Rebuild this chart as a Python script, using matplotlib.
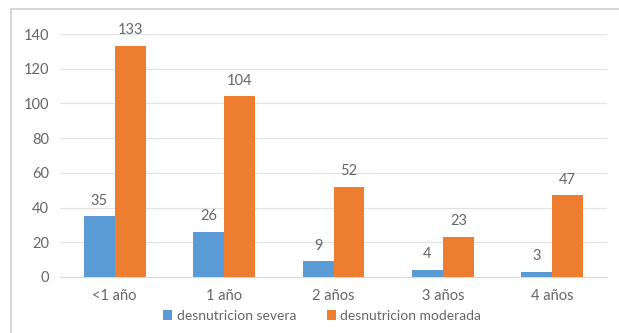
import matplotlib
matplotlib.use("Agg")
import matplotlib.pyplot as plt
from matplotlib.patches import Rectangle
import numpy as np

categories = ["<1 año", "1 año", "2 años", "3 años", "4 años"]
severa = [35, 26, 9, 4, 3]
moderada = [133, 104, 52, 23, 47]
series_names = ["desnutricion severa", "desnutricion moderada"]
yticks = [0, 20, 40, 60, 80, 100, 120, 140]

blue = "#5B9BD5"
orange = "#ED7D31"
text_gray = "#666666"
grid_gray = "#E3E3E3"

plt.rcParams["font.family"] = ["Lato", "DejaVu Sans"]

W, H = 619, 333
fig = plt.figure(figsize=(W / 100, H / 100), dpi=100)
fig.patch.set_facecolor("white")

# chart frame
fig.add_artist(Rectangle((11 / W, -0.05), 1.0, 1 - 9 / H + 0.05,
                         transform=fig.transFigure, fill=False,
                         edgecolor="#D0D0D0", linewidth=1.2))

left, right = 60 / W, 607 / W
bottom, top = 1 - 277 / H, 1 - 34 / H
ax = fig.add_axes([left, bottom, right - left, top - bottom])

x = np.arange(len(categories))
w = 0.283
b1 = ax.bar(x - w / 2, severa, w, color=blue, label=series_names[0], zorder=3)
b2 = ax.bar(x + w / 2, moderada, w, color=orange, label=series_names[1], zorder=3)

for bars, vals in ((b1, severa), (b2, moderada)):
    for r, v in zip(bars, vals):
        ax.text(r.get_x() + r.get_width() / 2, v + 5, str(v),
                ha="center", va="bottom", fontsize=10.5, color=text_gray)

ax.set_xlim(-0.5, len(categories) - 0.5)
ax.set_ylim(0, 140)
ax.set_yticks(yticks)
ax.set_xticks(x)
ax.set_xticklabels(categories)
ax.tick_params(axis="both", length=0, labelsize=10.5, labelcolor=text_gray)
ax.tick_params(axis="y", pad=8)
ax.tick_params(axis="x", pad=9)
ax.grid(axis="y", color=grid_gray, linewidth=0.9, zorder=0)
for s in ["top", "right", "left"]:
    ax.spines[s].set_visible(False)
ax.spines["bottom"].set_color("#D9D9D9")
ax.set_facecolor("none")

fig.legend(handles=[b1, b2], labels=series_names, loc="center",
           bbox_to_anchor=(322 / W, 1 - 316 / H), ncol=2, frameon=False,
           fontsize=10, labelcolor=text_gray, handlelength=0.7,
           handleheight=0.7, handletextpad=0.3, columnspacing=2.2)

fig.savefig("out.png", dpi=100)
